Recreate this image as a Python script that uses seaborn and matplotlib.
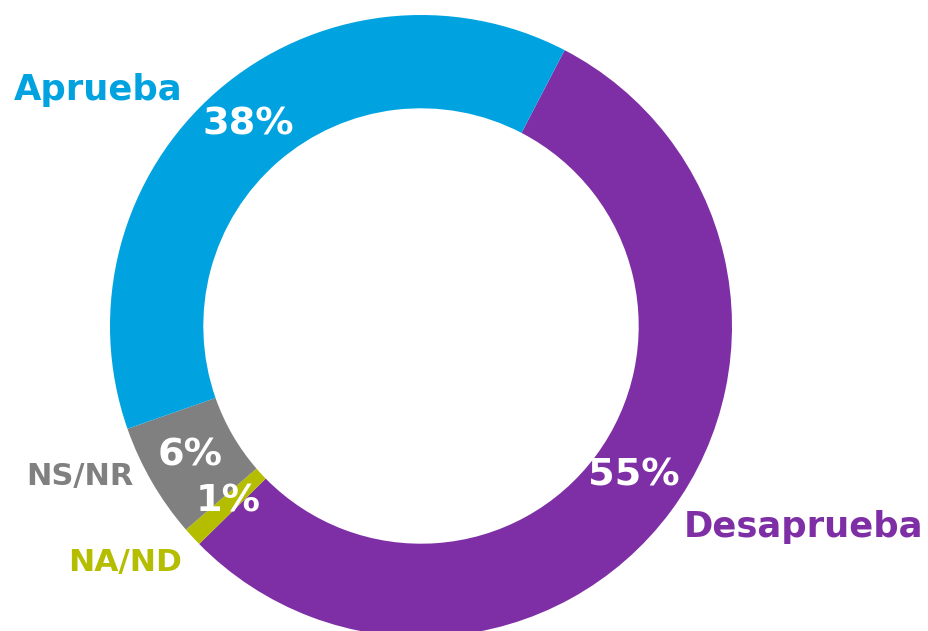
import matplotlib
matplotlib.use("Agg")
import matplotlib.pyplot as plt
import seaborn as sns

# ── Data ───────────────────────────────────────────────────────────────
CATEGORIES = ["Desaprueba", "NA/ND", "NS/NR", "Aprueba"]
VALUES     = [55, 1, 6, 38]
COLORS     = ["#7F2FA5", "#B5BD00", "#808080", "#00A3E0"]

W, H = 929, 631
CENTER = (421, H - 326)
RADIUS = 311

sns.set_theme(style="white")
plt.rcParams["font.family"] = ["DejaVu Sans"]

fig = plt.figure(figsize=(W / 100, H / 100), dpi=100)
ax = fig.add_axes([0, 0, 1, 1])

wedges, _ = ax.pie(VALUES, colors=COLORS, startangle=62.5, counterclock=False,
                   center=CENTER, radius=RADIUS,
                   wedgeprops=dict(width=RADIUS * 0.30, linewidth=0))
ax.set_xlim(0, W); ax.set_ylim(0, H)
ax.set_aspect("equal"); ax.axis("off")

# percent labels inside the ring (pixel positions, top-left origin)
pct_pos  = [(634, 476), (228, 502), (190, 455), (248, 125)]
for v, (x, y) in zip(VALUES, pct_pos):
    ax.text(x, H - y, f"{v}%", ha="center", va="center", color="white",
            fontsize=27.5, fontweight="bold")

# category labels outside
lab_pos  = [(804, 527), (125, 562), (80, 477), (98, 90)]
lab_size = [25.5, 22.5, 22, 25.5]
for name, c, (x, y), fs in zip(CATEGORIES, COLORS, lab_pos, lab_size):
    ax.text(x, H - y, name, ha="center", va="center", color=c,
            fontsize=fs, fontweight="bold")

fig.savefig("out.png", dpi=100, facecolor="white")
